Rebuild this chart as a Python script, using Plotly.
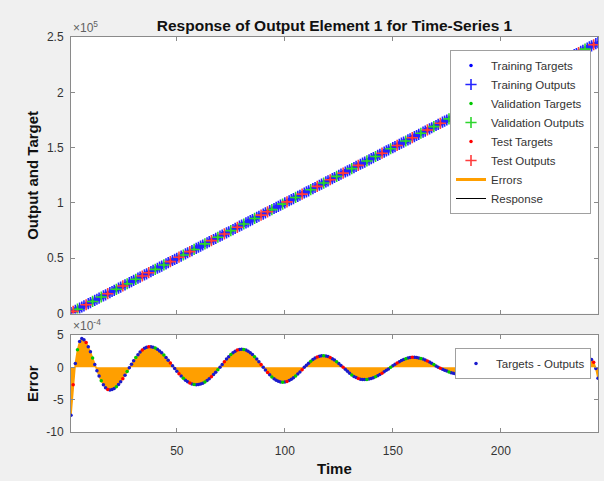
import plotly.graph_objects as go

# ---------------- data ----------------
time = list(range(1, 246))

targets = [
    1000, 2000, 3000, 4000, 5000, 6000, 7000, 8000, 9000, 10000,
    11000, 12000, 13000, 14000, 15000, 16000, 17000, 18000, 19000, 20000,
    21000, 22000, 23000, 24000, 25000, 26000, 27000, 28000, 29000, 30000,
    31000, 32000, 33000, 34000, 35000, 36000, 37000, 38000, 39000, 40000,
    41000, 42000, 43000, 44000, 45000, 46000, 47000, 48000, 49000, 50000,
    51000, 52000, 53000, 54000, 55000, 56000, 57000, 58000, 59000, 60000,
    61000, 62000, 63000, 64000, 65000, 66000, 67000, 68000, 69000, 70000,
    71000, 72000, 73000, 74000, 75000, 76000, 77000, 78000, 79000, 80000,
    81000, 82000, 83000, 84000, 85000, 86000, 87000, 88000, 89000, 90000,
    91000, 92000, 93000, 94000, 95000, 96000, 97000, 98000, 99000, 100000,
    101000, 102000, 103000, 104000, 105000, 106000, 107000, 108000, 109000, 110000,
    111000, 112000, 113000, 114000, 115000, 116000, 117000, 118000, 119000, 120000,
    121000, 122000, 123000, 124000, 125000, 126000, 127000, 128000, 129000, 130000,
    131000, 132000, 133000, 134000, 135000, 136000, 137000, 138000, 139000, 140000,
    141000, 142000, 143000, 144000, 145000, 146000, 147000, 148000, 149000, 150000,
    151000, 152000, 153000, 154000, 155000, 156000, 157000, 158000, 159000, 160000,
    161000, 162000, 163000, 164000, 165000, 166000, 167000, 168000, 169000, 170000,
    171000, 172000, 173000, 174000, 175000, 176000, 177000, 178000, 179000, 180000,
    181000, 182000, 183000, 184000, 185000, 186000, 187000, 188000, 189000, 190000,
    191000, 192000, 193000, 194000, 195000, 196000, 197000, 198000, 199000, 200000,
    201000, 202000, 203000, 204000, 205000, 206000, 207000, 208000, 209000, 210000,
    211000, 212000, 213000, 214000, 215000, 216000, 217000, 218000, 219000, 220000,
    221000, 222000, 223000, 224000, 225000, 226000, 227000, 228000, 229000, 230000,
    231000, 232000, 233000, 234000, 235000, 236000, 237000, 238000, 239000, 240000,
    241000, 242000, 243000, 244000, 245000,
]

# errors (targets - outputs), in units of 1e-4
errors_e4 = [
    -7.4, -2.7, 0.6, 2.7, 4.0, 4.44, 4.26, 3.84, 3.20, 2.39,
    1.45, 0.42, -0.51, -1.34, -2.08, -2.71, -3.16, -3.43, -3.50, -3.43,
    -3.26, -3.00, -2.66, -2.24, -1.75, -1.22, -0.65, -0.06, 0.48, 1.01,
    1.51, 1.96, 2.36, 2.69, 2.94, 3.11, 3.19, 3.19, 3.12, 2.99,
    2.79, 2.54, 2.25, 1.90, 1.52, 1.11, 0.68, 0.23, -0.20, -0.60,
    -0.99, -1.35, -1.68, -1.98, -2.23, -2.43, -2.58, -2.67, -2.70, -2.67,
    -2.59, -2.46, -2.27, -2.04, -1.77, -1.46, -1.12, -0.76, -0.38, 0.00,
    0.44, 0.87, 1.27, 1.65, 1.98, 2.27, 2.49, 2.66, 2.77, 2.80,
    2.77, 2.66, 2.49, 2.27, 1.98, 1.65, 1.27, 0.87, 0.44, 0.00,
    -0.40, -0.79, -1.15, -1.48, -1.76, -1.99, -2.16, -2.27, -2.30, -2.27,
    -2.19, -2.05, -1.86, -1.63, -1.35, -1.04, -0.71, -0.36, 0.00, 0.33,
    0.64, 0.94, 1.20, 1.43, 1.60, 1.72, 1.79, 1.79, 1.75, 1.66,
    1.52, 1.34, 1.12, 0.87, 0.59, 0.30, 0.00, -0.31, -0.62, -0.90,
    -1.17, -1.40, -1.59, -1.74, -1.84, -1.89, -1.89, -1.87, -1.81, -1.72,
    -1.60, -1.47, -1.30, -1.12, -0.92, -0.70, -0.47, -0.24, 0.00, 0.23,
    0.46, 0.67, 0.87, 1.05, 1.21, 1.34, 1.44, 1.51, 1.55, 1.55,
    1.52, 1.46, 1.38, 1.27, 1.13, 0.98, 0.81, 0.62, 0.42, 0.21,
    0.00, -0.15, -0.30, -0.44, -0.58, -0.71, -0.82, -0.93, -1.01, -1.09,
    -1.14, -1.18, -1.20, -1.20, -1.18, -1.14, -1.08, -1.00, -0.90, -0.79,
    -0.67, -0.53, -0.39, -0.23, -0.08, 0.04, 0.09, 0.14, 0.18, 0.22,
    0.25, 0.27, 0.29, 0.30, 0.30, 0.30, 0.30, 0.29, 0.27, 0.25,
    0.22, 0.19, 0.15, 0.11, 0.07, 0.02, 0.00, -0.26, -0.51, -0.75,
    -0.96, -1.15, -1.30, -1.41, -1.48, -1.50, -1.47, -1.39, -1.25, -1.06,
    -0.83, -0.57, -0.29, 0.00, 0.34, 0.65, 0.93, 1.15, 1.31, 1.39,
    1.39, 1.20, 0.80, -0.20, -1.70,
]

# time steps assigned to validation and test sets (rest are training)
val_steps = [4, 11, 15, 22, 27, 31, 40, 44, 53, 58, 63, 69, 75, 81, 86, 94, 99,
             105, 112, 118, 124, 131, 138, 142, 149, 156, 163, 169, 176, 183,
             190, 197, 204, 211, 219, 226, 233, 239]
test_steps = [2, 8, 18, 25, 34, 37, 47, 51, 56, 66, 72, 78, 89, 92, 101, 108,
              115, 121, 127, 134, 145, 152, 159, 166, 172, 180, 187, 194, 201,
              208, 215, 222, 229, 236, 243]

y_ticks_top = [0, 50000, 100000, 150000, 200000, 250000]
y_ticktext_top = ["0", "0.5", "1", "1.5", "2", "2.5"]
y_ticks_bot = [-10e-4, -5e-4, 0, 5e-4]
y_ticktext_bot = ["-10", "-5", "0", "5"]
x_ticks = [50, 100, 150, 200]

# ---------------- derived ----------------
errors = [e * 1e-4 for e in errors_e4]
outputs = [t - e for t, e in zip(targets, errors)]

val_set = set(val_steps)
test_set = set(test_steps)


def subset(kind):
    idx = []
    for i, t in enumerate(time):
        if kind == "val" and t in val_set:
            idx.append(i)
        elif kind == "test" and t in test_set:
            idx.append(i)
        elif kind == "train" and t not in val_set and t not in test_set:
            idx.append(i)
    return idx


FONT = "Liberation Sans, Arial, Helvetica, sans-serif"
AX = "#8a8a8a"
TXT = "#333333"
ORANGE = "#ff9f00"

sets = [
    ("Training", "train", "#0000ff", "#2424ff", 1),
    ("Validation", "val", "#00c800", "#2ed62e", 3),
    ("Test", "test", "#ff0000", "#ff3c3c", 5),
]

fig = go.Figure()

# Response line
fig.add_trace(go.Scatter(
    x=time, y=outputs, mode="lines", name="Response",
    line=dict(color="black", width=1), legendrank=8,
    xaxis="x", yaxis="y", legend="legend"))

for name, kind, c_t, c_o, rank in sets:
    idx = subset(kind)
    xs = [time[i] for i in idx]
    fig.add_trace(go.Scatter(
        x=xs, y=[targets[i] for i in idx], mode="markers",
        name=f"{name} Targets", legendrank=rank,
        marker=dict(symbol="circle", size=3.5, color=c_t),
        xaxis="x", yaxis="y", legend="legend"))
    fig.add_trace(go.Scatter(
        x=xs, y=[outputs[i] for i in idx], mode="markers",
        name=f"{name} Outputs", legendrank=rank + 1,
        marker=dict(symbol="cross-thin", size=8, color=c_o,
                    line=dict(color=c_o, width=1.6)),
        xaxis="x", yaxis="y", legend="legend"))

# Errors (filled) in bottom panel
fig.add_trace(go.Scatter(
    x=time, y=errors, mode="lines", name="Errors", showlegend=False,
    line=dict(color=ORANGE, width=1.5), fill="tozeroy", fillcolor=ORANGE,
    xaxis="x2", yaxis="y2"))
# legend entry for the errors (line style, as in the reference)
fig.add_trace(go.Scatter(
    x=[None], y=[None], mode="lines", name="Errors",
    line=dict(color=ORANGE, width=3), legendrank=7,
    xaxis="x2", yaxis="y2", legend="legend"))

for name, kind, c_t, c_o, rank in sets:
    idx = subset(kind)
    fig.add_trace(go.Scatter(
        x=[time[i] for i in idx], y=[errors[i] for i in idx], mode="markers",
        name="Targets - Outputs", showlegend=(kind == "train"),
        marker=dict(symbol="circle", size=3.5,
                    color=c_t if kind != "train" else "#1a1acc"),
        xaxis="x2", yaxis="y2", legend="legend2"))

axis_common = dict(
    showline=True, linecolor=AX, linewidth=1, mirror="ticks",
    ticks="inside", ticklen=4, tickcolor=AX, showgrid=False, zeroline=False,
    tickfont=dict(family=FONT, size=12, color=TXT),
)

fig.update_layout(
    width=604, height=481,
    margin=dict(l=71, r=6, t=37, b=49),
    paper_bgcolor="#f0f0f0", plot_bgcolor="white",
    font=dict(family=FONT, color=TXT),
    showlegend=True,
    title=dict(text="<b>Response of Output Element 1 for Time-Series 1</b>",
               font=dict(family=FONT, size=15.5, color="#111111"),
               xref="paper", x=0.5, xanchor="center",
               yref="container", y=1 - 26 / 481, yanchor="middle"),
    xaxis=dict(domain=[0, 1], range=[1, 245], anchor="y", tickvals=x_ticks,
               showticklabels=False, **axis_common),
    yaxis=dict(domain=[0.2997, 1], range=[0, 250000], anchor="x",
               tickvals=y_ticks_top, ticktext=y_ticktext_top,
               ticklabelstandoff=4, **axis_common),
    xaxis2=dict(domain=[0, 1], range=[1, 245], anchor="y2", tickvals=x_ticks,
                ticklabelstandoff=8, **axis_common),
    yaxis2=dict(domain=[0, 0.2456], range=[-10e-4, 5e-4], anchor="x2",
                tickvals=y_ticks_bot, ticktext=y_ticktext_bot,
                ticklabelstandoff=4, **axis_common),
    legend=dict(x=(450 - 71) / 527, y=(432 - 50) / 395, xanchor="left", yanchor="top",
                bgcolor="white", bordercolor="#a0a0a0", borderwidth=1,
                font=dict(family=FONT, size=11.5, color=TXT), tracegroupgap=0),
    legend2=dict(x=(455 - 71) / 527, y=(432 - 348) / 395, xanchor="left", yanchor="top",
                 bgcolor="white", bordercolor="#a0a0a0", borderwidth=1,
                 font=dict(family=FONT, size=11.5, color=TXT)),
)

annotations = [
    dict(text="×10<sup>5</sup>", xref="paper", yref="paper", x=0, y=1,
         xanchor="left", yanchor="bottom", showarrow=False, yshift=0,
         font=dict(family=FONT, size=12, color="#606060")),
    dict(text="×10<sup>-4</sup>", xref="paper", yref="paper", x=0, y=0.2456,
         xanchor="left", yanchor="bottom", showarrow=False, yshift=0,
         font=dict(family=FONT, size=12, color="#606060")),
    dict(text="<b>Output and Target</b>", xref="paper", yref="paper",
         x=0, y=(0.2997 + 1) / 2, xanchor="center", yanchor="middle",
         xshift=-(71 - 32.5), textangle=-90, showarrow=False,
         font=dict(family=FONT, size=15, color="#111111")),
    dict(text="<b>Error</b>", xref="paper", yref="paper",
         x=0, y=0.2456 / 2, xanchor="center", yanchor="middle",
         xshift=-(71 - 32.5), textangle=-90, showarrow=False,
         font=dict(family=FONT, size=15, color="#111111")),
    dict(text="<b>Time</b>", xref="paper", yref="paper",
         x=0.5, y=0, xanchor="center", yanchor="middle",
         yshift=-(468 - 432), showarrow=False,
         font=dict(family=FONT, size=15, color="#111111")),
]
fig.update_layout(annotations=annotations)

fig.write_html(
    "out.html",
    config={"displayModeBar": False},
    post_script="document.body.style.margin='0';document.body.style.background='#f0f0f0';",
)
